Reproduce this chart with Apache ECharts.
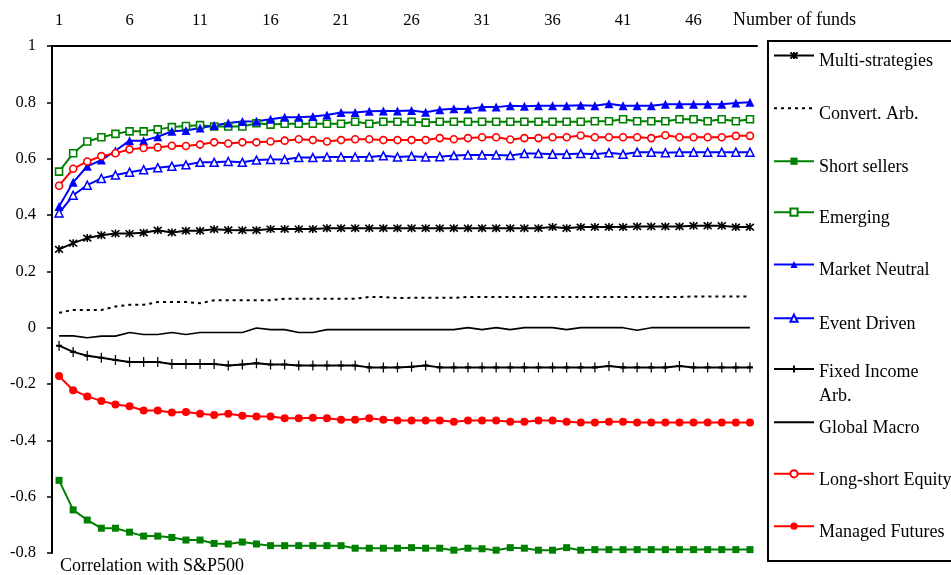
<!DOCTYPE html>
<html><head><meta charset="utf-8">
<script src="https://cdn.jsdelivr.net/npm/echarts@6/dist/echarts.min.js"></script>
<style>html,body{margin:0;padding:0;background:#fff}#c{width:951px;height:575px}</style>
</head><body><div id="c"></div>
<script>
const categories = ['1','2','3','4','5','6','7','8','9','10','11','12','13','14','15','16','17','18','19','20','21','22','23','24','25','26','27','28','29','30','31','32','33','34','35','36','37','38','39','40','41','42','43','44','45','46','47','48','49','50'];

const multiStrategies = [0.278,0.300,0.318,0.328,0.334,0.334,0.337,0.346,0.338,0.344,0.344,0.349,0.347,0.346,0.346,0.350,0.350,0.350,0.350,0.353,0.353,0.353,0.353,0.353,0.353,0.353,0.353,0.353,0.353,0.353,0.353,0.353,0.353,0.353,0.353,0.357,0.353,0.357,0.357,0.357,0.357,0.359,0.359,0.359,0.359,0.362,0.362,0.362,0.357,0.357];
const convertArb = [0.053,0.063,0.063,0.063,0.075,0.081,0.081,0.091,0.091,0.091,0.087,0.097,0.097,0.097,0.097,0.097,0.103,0.103,0.103,0.103,0.103,0.103,0.109,0.109,0.105,0.106,0.106,0.106,0.106,0.109,0.109,0.109,0.109,0.109,0.109,0.109,0.109,0.109,0.109,0.109,0.109,0.109,0.109,0.109,0.109,0.111,0.111,0.111,0.111,0.111];
const shortSellers = [-0.542,-0.647,-0.683,-0.712,-0.712,-0.726,-0.740,-0.740,-0.745,-0.754,-0.754,-0.766,-0.768,-0.761,-0.768,-0.774,-0.774,-0.774,-0.774,-0.774,-0.774,-0.783,-0.783,-0.783,-0.783,-0.781,-0.783,-0.783,-0.790,-0.783,-0.785,-0.790,-0.781,-0.783,-0.790,-0.790,-0.781,-0.790,-0.788,-0.788,-0.788,-0.788,-0.788,-0.788,-0.788,-0.788,-0.788,-0.788,-0.788,-0.788];
const emerging = [0.554,0.619,0.661,0.676,0.688,0.697,0.697,0.704,0.712,0.716,0.719,0.714,0.714,0.714,0.726,0.721,0.724,0.724,0.724,0.724,0.724,0.731,0.724,0.731,0.731,0.731,0.728,0.731,0.731,0.731,0.731,0.731,0.731,0.731,0.731,0.731,0.731,0.731,0.733,0.733,0.740,0.733,0.733,0.733,0.740,0.740,0.733,0.740,0.733,0.740];
const marketNeutral = [0.430,0.516,0.573,0.595,0.628,0.664,0.664,0.678,0.697,0.700,0.709,0.718,0.727,0.732,0.733,0.740,0.747,0.747,0.750,0.755,0.764,0.764,0.768,0.769,0.769,0.771,0.765,0.774,0.777,0.776,0.783,0.783,0.788,0.786,0.788,0.788,0.788,0.790,0.788,0.795,0.788,0.788,0.788,0.793,0.793,0.793,0.793,0.793,0.798,0.800];
const eventDriven = [0.407,0.470,0.506,0.530,0.542,0.552,0.561,0.568,0.573,0.578,0.587,0.587,0.590,0.587,0.595,0.597,0.597,0.604,0.604,0.606,0.606,0.606,0.606,0.610,0.606,0.609,0.606,0.607,0.611,0.613,0.613,0.613,0.611,0.618,0.618,0.616,0.616,0.618,0.616,0.621,0.616,0.623,0.623,0.621,0.623,0.623,0.623,0.623,0.623,0.623];
const fixedIncomeArb = [-0.064,-0.086,-0.100,-0.107,-0.115,-0.122,-0.122,-0.122,-0.129,-0.129,-0.129,-0.129,-0.134,-0.131,-0.126,-0.131,-0.131,-0.134,-0.134,-0.134,-0.134,-0.134,-0.141,-0.141,-0.141,-0.139,-0.134,-0.141,-0.141,-0.141,-0.141,-0.141,-0.141,-0.141,-0.141,-0.141,-0.141,-0.141,-0.141,-0.136,-0.141,-0.141,-0.141,-0.141,-0.136,-0.141,-0.141,-0.141,-0.141,-0.141];
const globalMacro = [-0.029,-0.029,-0.036,-0.030,-0.030,-0.017,-0.024,-0.024,-0.017,-0.024,-0.017,-0.017,-0.017,-0.017,-0.001,-0.007,-0.007,-0.017,-0.017,-0.007,-0.007,-0.007,-0.007,-0.007,-0.007,-0.007,-0.007,-0.007,-0.007,0,-0.007,0,-0.007,0,0,0,-0.007,0,0,0,0,-0.009,0,0,0,0,0,0,0,0];
const longShortEquity = [0.504,0.564,0.590,0.609,0.619,0.633,0.638,0.640,0.646,0.645,0.650,0.658,0.654,0.658,0.658,0.661,0.664,0.669,0.666,0.661,0.666,0.669,0.669,0.666,0.666,0.666,0.666,0.673,0.669,0.673,0.676,0.676,0.668,0.673,0.673,0.676,0.676,0.682,0.676,0.676,0.676,0.676,0.673,0.683,0.676,0.676,0.676,0.676,0.681,0.681];
const managedFutures = [-0.172,-0.222,-0.244,-0.260,-0.273,-0.279,-0.294,-0.294,-0.301,-0.299,-0.306,-0.310,-0.306,-0.313,-0.315,-0.315,-0.322,-0.322,-0.320,-0.322,-0.327,-0.327,-0.322,-0.327,-0.330,-0.330,-0.330,-0.330,-0.334,-0.330,-0.330,-0.330,-0.334,-0.334,-0.330,-0.330,-0.334,-0.337,-0.337,-0.334,-0.334,-0.337,-0.337,-0.337,-0.337,-0.337,-0.337,-0.337,-0.337,-0.337];

const FONT = '"Liberation Serif","Times New Roman",serif';
const FS = 16.5;   // tick labels
const FL = 18;     // legend and axis names
const GREEN = '#008000', BLUE = '#0000ff', RED = '#ff0000', BLACK = '#000000';

const defs = [
  {name:'Multi-strategies', data:multiStrategies, color:BLACK, symbol:'path://M0,0L10,10M10,0L0,10M5,-1L5,11', size:8, fill:BLACK, bw:1.6, lw:2},
  {name:'Convert. Arb.', data:convertArb, color:BLACK, symbol:'none', size:0, fill:BLACK, bw:0, lw:2, type:[3,4]},
  {name:'Short sellers', data:shortSellers, color:GREEN, symbol:'rect', size:7, fill:GREEN, bw:0, lw:2},
  {name:'Emerging', data:emerging, color:GREEN, symbol:'rect', size:7, fill:'#ffffff', bw:1.6, lw:2},
  {name:'Market Neutral', data:marketNeutral, color:BLUE, symbol:'triangle', size:9, fill:BLUE, bw:0, lw:2},
  {name:'Event Driven', data:eventDriven, color:BLUE, symbol:'triangle', size:8, fill:'#ffffff', bw:1.5, lw:2},
  {name:'Fixed Income Arb.', data:fixedIncomeArb, color:BLACK, symbol:'path://M0,5L10,5M5,0L5,10', size:[6,10], fill:BLACK, bw:1.6, lw:2, legendLines:['Fixed Income','Arb.']},
  {name:'Global Macro', data:globalMacro, color:BLACK, symbol:'none', size:0, fill:BLACK, bw:0, lw:1.6},
  {name:'Long-short Equity', data:longShortEquity, color:RED, symbol:'circle', size:7, fill:'#ffffff', bw:1.6, lw:2},
  {name:'Managed Futures', data:managedFutures, color:RED, symbol:'circle', size:8, fill:RED, bw:0, lw:2}
];
const legendIconY = [55, 107.7, 160.7, 211.7, 264, 317.7, 369, 421.7, 473.3, 525.7];

const LH = 24, IH = 9;
const legends = defs.map((d, i) => {
  let top, formatter, rich;
  const base = {fontFamily: FONT, fontSize: FL, color: '#000', lineHeight: LH};
  if (d.legendLines) {
    formatter = '{e| }\n{a|' + d.legendLines[0] + '}\n{b|' + d.legendLines[1] + '}';
    rich = {e: Object.assign({}, base, {lineHeight: 30}), a: Object.assign({}, base), b: Object.assign({}, base)};
    top = legendIconY[i] - 39;
  } else {
    formatter = '{a|{name}}';
    rich = {a: Object.assign({padding: [12, 0, 0, 0]}, base)};
    top = legendIconY[i] - 18 + 3.5;
  }
  const lg = {
    data: [d.name], left: 773, top: top, orient: 'vertical', padding: 0,
    itemWidth: 40, itemHeight: IH, selectedMode: false,
    formatter: formatter,
    textStyle: Object.assign({rich: rich}, base)
  };
  if (d.symbol === 'none') lg.itemStyle = {opacity: 0};
  return lg;
});

const series = defs.map(d => ({
  type: 'line', name: d.name, data: d.data,
  symbol: d.symbol, symbolSize: d.size, showSymbol: d.symbol !== 'none', showAllSymbol: true,
  lineStyle: {color: d.color, width: d.lw, type: d.type || 'solid'},
  itemStyle: {color: d.fill, borderColor: d.color, borderWidth: d.bw},
  emphasis: {disabled: true},
  animation: false
}));

const chart = echarts.init(document.getElementById('c'), null, {renderer: 'canvas'});
chart.setOption({
  animation: false,
  backgroundColor: '#ffffff',
  grid: {left: 52, right: 194, top: 46, bottom: 20},
  xAxis: {
    type: 'category', position: 'top', data: categories, boundaryGap: true,
    axisLine: {onZero: false, lineStyle: {color: '#000', width: 2}},
    axisTick: {interval: 0, length: 4, lineStyle: {color: '#000', width: 1.5}},
    axisLabel: {interval: 4, margin: 17, fontFamily: FONT, fontSize: FS, color: '#000'},
    splitLine: {show: false},
    name: '{n|Number of funds}', nameLocation: 'end', nameGap: -24,
    nameTextStyle: {fontFamily: FONT, fontSize: FL, color: '#000', align: 'left', verticalAlign: 'middle',
      rich: {n: {fontFamily: FONT, fontSize: FL, color: '#000', lineHeight: 20, padding: [0, 0, 52, 0]}}}
  },
  yAxis: {
    type: 'value', min: -0.8, max: 1, interval: 0.2,
    axisLine: {show: true, lineStyle: {color: '#000', width: 2}},
    axisTick: {show: true, length: 5, lineStyle: {color: '#000', width: 1.5}},
    axisLabel: {margin: 16, fontFamily: FONT, fontSize: FS, color: '#000',
      formatter: v => String(Math.round(v * 10) / 10)},
    splitLine: {show: false},
    name: 'Correlation with S&P500', nameLocation: 'start', nameGap: 13,
    nameTextStyle: {fontFamily: FONT, fontSize: FL, color: '#000', align: 'left', verticalAlign: 'middle', padding: [0, 0, 0, 8]}
  },
  legend: legends,
  graphic: [{type: 'rect', silent: true, z: 0, shape: {x: 768, y: 41, width: 200, height: 520}, style: {fill: 'none', stroke: '#000', lineWidth: 2}}],
  series: series
});
</script>
</body></html>
